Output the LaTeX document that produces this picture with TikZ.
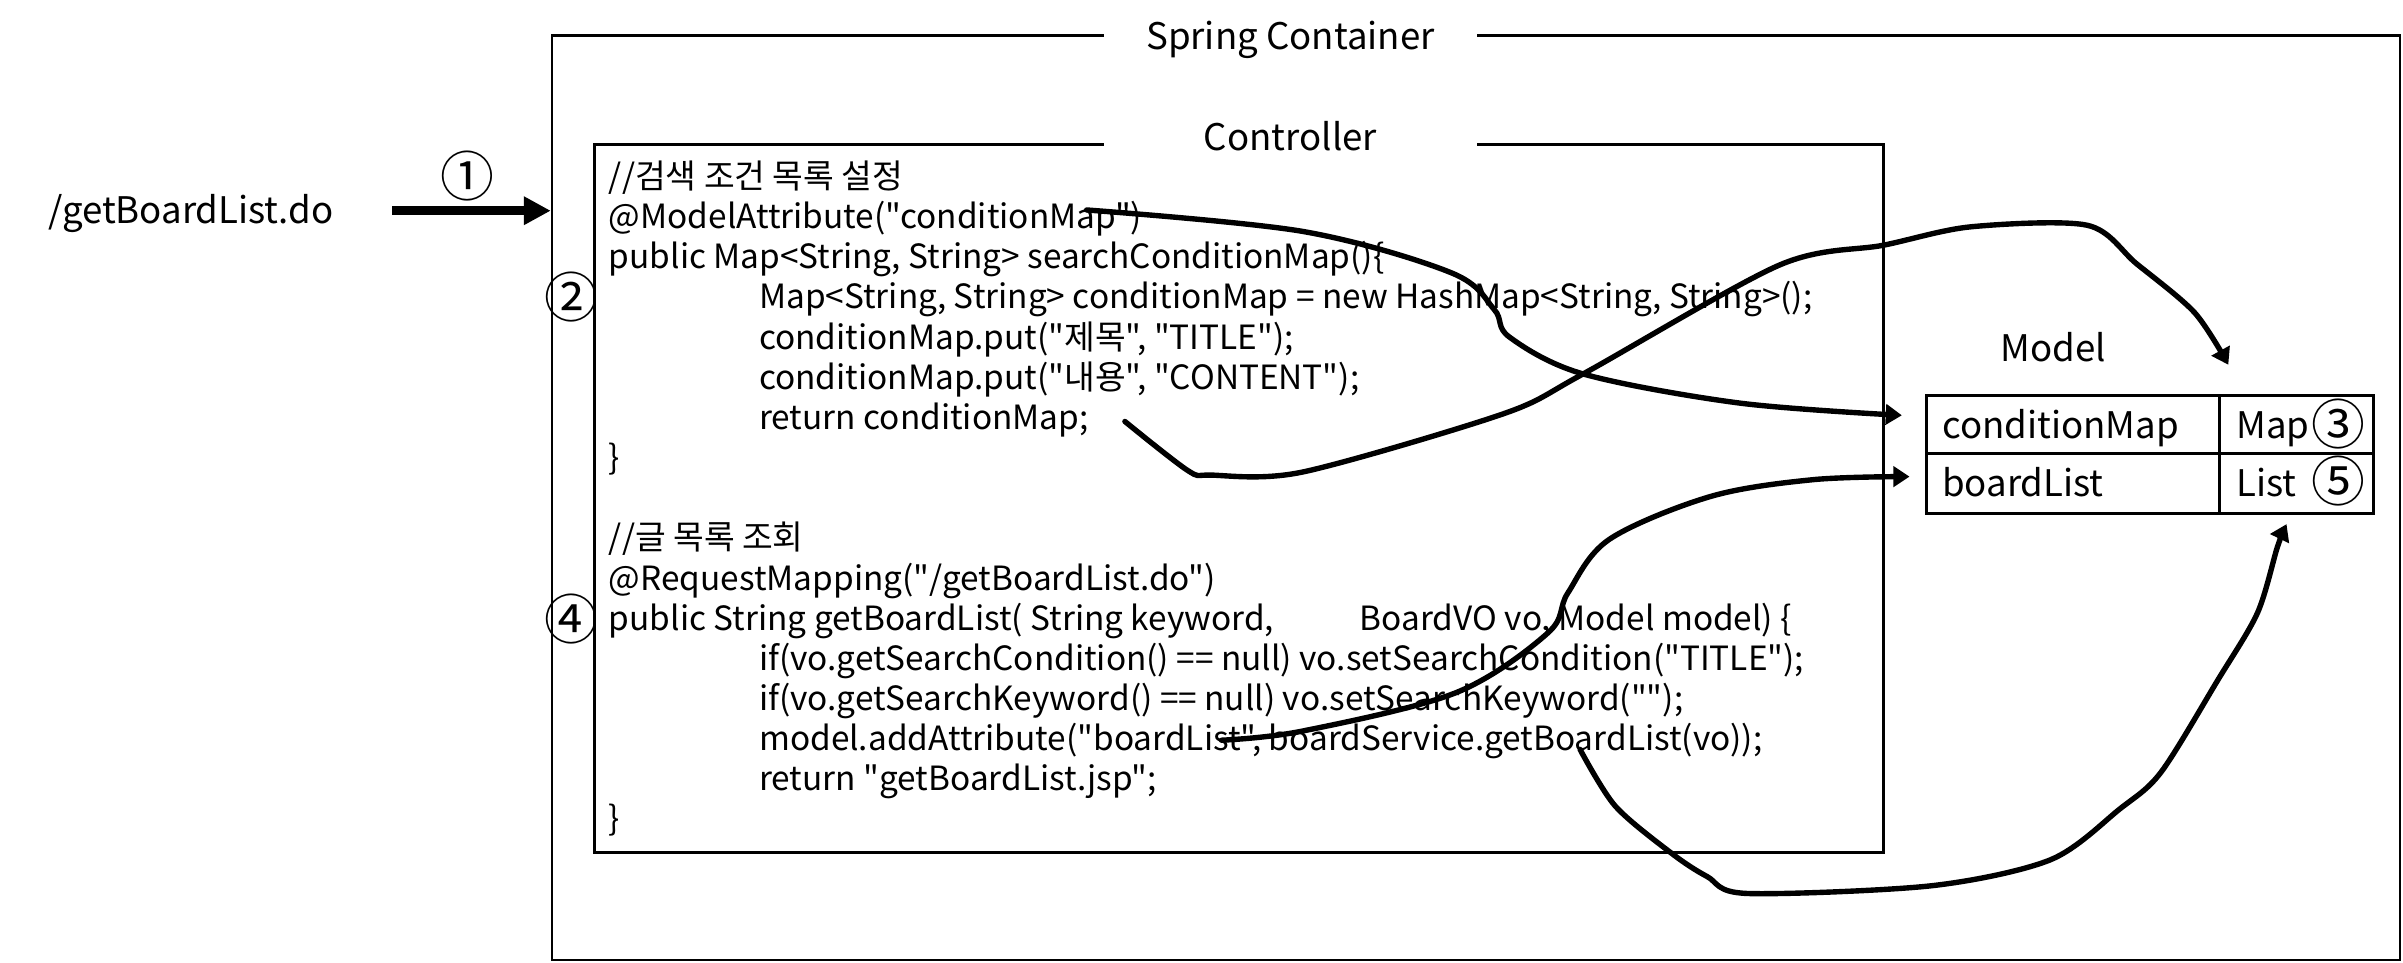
\documentclass[tikz,border=0pt]{standalone}
\usepackage{fontspec}
\setmainfont{Noto Sans CJK KR}[Ligatures=TeXOff]
\usetikzlibrary{arrows.meta}
\newcommand{\codesize}{\fontsize{12.4pt}{15pt}\selectfont}
\newcommand{\bigsize}{\fontsize{13.6pt}{16pt}\selectfont}
\newcommand{\numsize}{\fontsize{20pt}{22pt}\selectfont}
\begin{document}
\begin{tikzpicture}[x=0.02cm, y=-0.02cm,
  code/.style={anchor=base west, inner sep=0pt, font=\codesize},
  big/.style={inner sep=0pt, font=\bigsize},
  num/.style={inner sep=0pt, font=\numsize},
  frame/.style={draw, inner sep=0pt},
  titlebox/.style={fill=white, inner ysep=2pt, inner xsep=0pt, minimum width=4.86cm, font=\bigsize, anchor=base},
  cell/.style={draw, line width=1.1pt, inner sep=0pt},
  flow/.style={line width=2pt, -{Triangle[length=6pt,width=7.5pt]}, line join=round, line cap=round}]
\useasboundingbox (0,0) rectangle (1568,628);
\fill[white] (0,0) rectangle (1568,628);

% containers
\node[frame, line width=0.85pt, minimum width=24.12cm, minimum height=12.07cm] (outer) at (963,324.8) {};
\node[titlebox] (outerT) at (842,32.5) {Spring Container};
\node[frame, line width=1.1pt, minimum width=16.82cm, minimum height=9.24cm] (ctrl) at (808.5,325) {};
\node[titlebox] (ctrlT) at (842,98) {Controller};

% request
\node[big, anchor=base west] (req) at (31,146) {/getBoardList.do};
\node[num] (n1) at (305,115) {①};
\coordinate (reqS) at (256,137.5);
\draw[line width=3.3pt, -{Triangle[length=10pt,width=10pt]}] (reqS) -- (reqS -| outer.west);

% code
\node[code] (l0) at (397,123) {//검색 조건 목록 설정};
\node[code] (l1) at (397,149.2) {@ModelAttribute("conditionMap")};
\node[code] (l2) at (397,175.4) {public Map<String, String> searchConditionMap()\{};
\node[code] (l3) at (495,201.6) {Map<String, String> conditionMap = new HashMap<String, String>();};
\node[code] (l4) at (495,227.8) {conditionMap.put("제목", "TITLE");};
\node[code] (l5) at (495,254) {conditionMap.put("내용", "CONTENT");};
\node[code] (l6) at (495,280.2) {return conditionMap;};
\node[code] (l7) at (397,306.4) {\}};
\node[code] (l9) at (397,358.8) {//글 목록 조회};
\node[code] (l10) at (397,385) {@RequestMapping("/getBoardList.do")};
\node[code] (l11) at (397,411.2) {public String getBoardList( String keyword,};
\node[code] (l11b) at (887,411.2) {BoardVO vo, Model model) \{};
\node[code] (l12) at (495,437.4) {if(vo.getSearchCondition() == null) vo.setSearchCondition("TITLE");};
\node[code] (l13) at (495,463.6) {if(vo.getSearchKeyword() == null) vo.setSearchKeyword("");};
\node[code] (l14) at (495,489.8) {model.addAttribute("boardList", boardService.getBoardList(vo));};
\node[code] (l15) at (495,516) {return "getBoardList.jsp";};
\node[code] (l16) at (397,542.2) {\}};
\node[num] (n2) at (373,194) {②};
\node[num] (n4) at (373,404) {④};

% model
\node[big, anchor=base] (modelT) at (1340,236) {Model};
\node[cell, minimum width=3.82cm, minimum height=0.76cm] (cA) at (1352.5,277) {};
\node[cell, minimum width=2.02cm, minimum height=0.76cm] (cB) at (1498.5,277) {};
\node[cell, minimum width=3.82cm, minimum height=0.78cm] (cC) at (1352.5,315.5) {};
\node[cell, minimum width=2.02cm, minimum height=0.78cm] (cD) at (1498.5,315.5) {};
\node[big, anchor=base west] (tA) at (1267,286) {conditionMap};
\node[big, anchor=base west] (tB) at (1459,286) {Map};
\node[num] (n3) at (1525.6,277) {③};
\node[big, anchor=base west] (tC) at (1267,324) {boardList};
\node[big, anchor=base west] (tD) at (1459,324) {List};
\node[num] (n5) at (1525.6,314) {⑤};

% flows
\coordinate (s1) at (709,137);
\coordinate (e1) at (1241,271);
\draw[flow] plot[smooth, tension=0.55] coordinates {(s1) (850,151) (947,178) (975,202) (985,220) (1033,244) (1135,263) (e1)};
\coordinate (s2) at (734,275);
\coordinate (e2) at (1454,238);
\draw[flow] plot[smooth, tension=0.5] coordinates {(s2) (775,307) (790,310) (850,308) (981,270) (1033,244) (1161,173) (1229,160) (1286,148) (1362,147) (1394,172) (1432,204) (e2)};
\coordinate (s3) at (797,483);
\coordinate (e3) at (1246,311);
\draw[flow] plot[smooth, tension=0.55] coordinates {(s3) (850,477) (950,452) (1010,413) (1023,387) (1050,352) (1116,324) (1183,313) (e3)};
\coordinate (s4) at (1031,489);
\coordinate (e4) at (1492,342);
\draw[flow] plot[smooth, tension=0.5] coordinates {(s4) (1054,526) (1091,557) (1114,572) (1140,583) (1260,578) (1338,561) (1383,528) (1410,504) (1447,444) (1473,400) (1486,357) (e4)};
\end{tikzpicture}
\end{document}
